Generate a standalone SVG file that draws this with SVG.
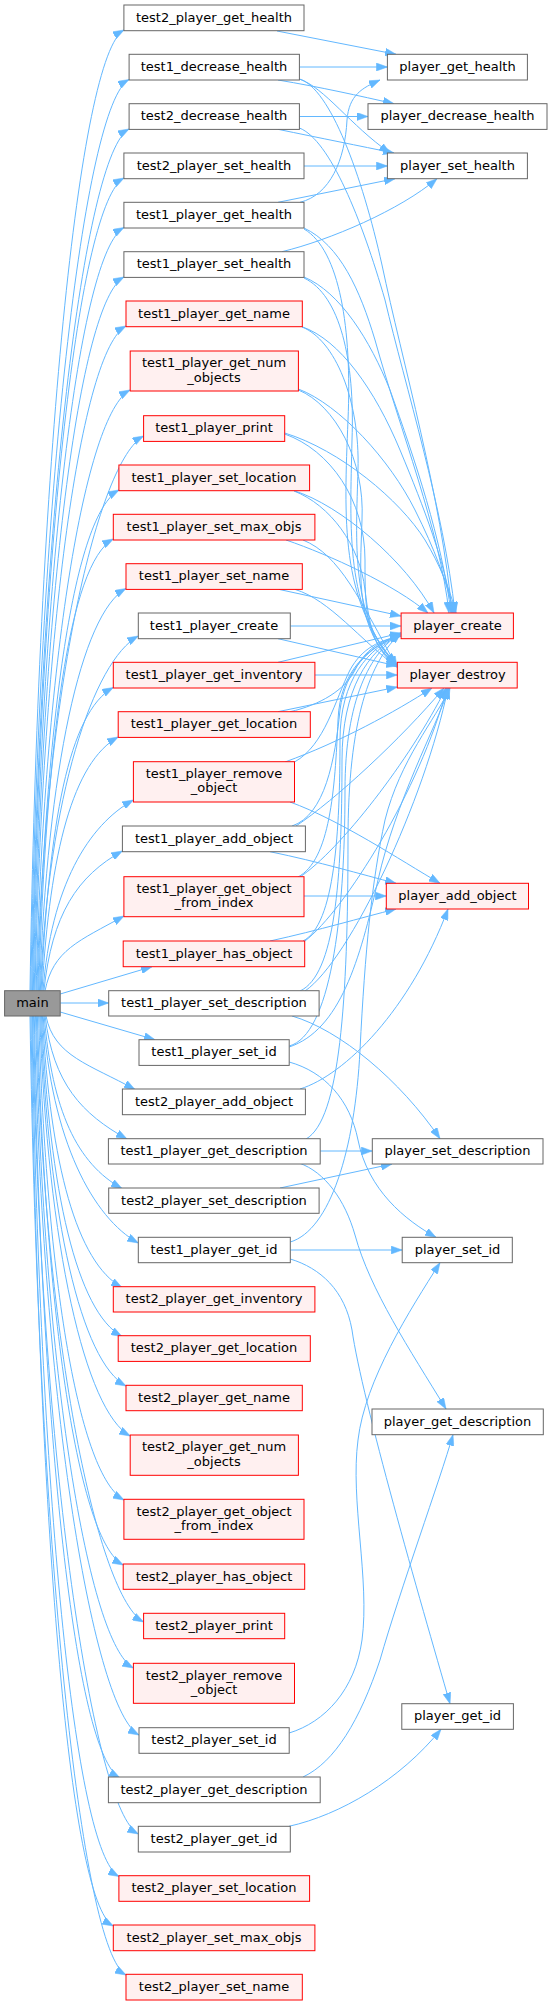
<svg xmlns="http://www.w3.org/2000/svg" width="549" height="2005" viewBox="0 0 549 2005">
<style>
.n rect{fill:#ffffff;stroke:#666666;stroke-width:1}
.r rect{fill:#fff0f0;stroke:#ff0000;stroke-width:1}
.m rect{fill:#999999;stroke:#666666;stroke-width:1}
text{font-family:"DejaVu Sans","Liberation Sans",sans-serif;font-size:13px;text-anchor:middle;fill:#000}
#edges path{fill:none;stroke:#63b8ff;stroke-width:1;marker-end:url(#ah)}
</style>
<defs>
<marker id="ah" markerUnits="userSpaceOnUse" viewBox="0 0 11 8" refX="11" refY="4" markerWidth="11" markerHeight="8" orient="auto">
<path d="M0,0 L11,4 L0,8 z" fill="#63b8ff" stroke="#63b8ff" stroke-width="0.5"/>
</marker>
</defs>
<rect width="549" height="2005" fill="#ffffff"/>
<g id="edges">
<path d="M30,991 C38,462.5 79,55 124,30"/>
<path d="M30.8,991 C38.8,489.7 84,104.5 129,79.5"/>
<path d="M31.7,991 C39.7,516.9 84,154 129,129"/>
<path d="M32.5,991 C40.5,543.8 79,203 124,178"/>
<path d="M33.3,991 C41.3,571.1 79,252.5 124,227.5"/>
<path d="M34.2,991 C42.2,598.3 79,302 124,277"/>
<path d="M35,991 C43,625.3 81,351 126,326"/>
<path d="M36.1,991 C44.1,660.5 85,415 130,390"/>
<path d="M36.9,991 C44.9,685.8 98.6,461 143.6,436"/>
<path d="M37.8,991 C45.8,715.5 74,515 119,490"/>
<path d="M38.6,991 C46.6,742.4 68.3,564 113.3,539"/>
<path d="M39.5,991 C47.5,769.6 81,613.5 126,588.5"/>
<path d="M40.3,991 C48.3,795.8 93.3,661 138.3,636"/>
<path d="M41.1,991 C49.1,824.1 68.3,712.5 113.3,687.5"/>
<path d="M42,991 C50,851.3 73.2,762 118.2,737"/>
<path d="M43,991 C51,886 88.4,825 133.4,800"/>
<path d="M43.9,991 C51.9,914 77.4,876 122.4,851"/>
<path d="M45,991 C53,949.8 79,941 124,916"/>
<path d="M60.2,994 L152,966.7"/>
<path d="M60.2,1003 L108.7,1003"/>
<path d="M60.2,1012 L155,1039.7"/>
<path d="M46,1016 C54,1056.4 90,1064.5 135,1089.5"/>
<path d="M45.1,1016 C53.1,1083.7 82,1114 127,1139"/>
<path d="M44.2,1016 C52.2,1110.9 77,1163.5 122,1188.5"/>
<path d="M43.2,1016 C51.2,1140.9 93.3,1218 138.3,1243"/>
<path d="M42.4,1016 C50.4,1165.3 77,1262.5 122,1287.5"/>
<path d="M41.5,1016 C49.5,1192.3 77,1311.5 122,1336.5"/>
<path d="M40.6,1016 C48.6,1219.5 81,1361 126,1386"/>
<path d="M39.7,1016 C47.7,1247 85.2,1411 130.2,1436"/>
<path d="M38.6,1016 C46.6,1282.2 79,1475 124,1500"/>
<path d="M37.4,1016 C45.4,1318 78.2,1540 123.2,1565"/>
<path d="M36.4,1016 C44.4,1349.3 98.6,1597 143.6,1622"/>
<path d="M35.5,1016 C43.5,1374.6 88.4,1643 133.4,1668"/>
<path d="M34.3,1016 C42.3,1411.5 94,1710 139,1735"/>
<path d="M33.5,1016 C41.5,1435.1 75,1753 120,1778"/>
<path d="M32.5,1016 C40.5,1465.9 93.3,1809 138.3,1834"/>
<path d="M31.8,1016 C39.8,1489.3 74,1851.5 119,1876.5"/>
<path d="M30.9,1016 C38.9,1516.5 68.3,1901 113.3,1926"/>
<path d="M30,1016 C38,1543.5 81,1950 126,1975"/>
<path d="M277,31 L396,54.3"/>
<path d="M299.4,67 L387.4,67"/>
<path d="M278,80 C320,87 360,96 394,103.7"/>
<path d="M299.4,79 C325,88 350,125 390,153"/>
<path d="M299.4,116.5 L368,116.5"/>
<path d="M278,129.3 C320,138 360,146 394,153"/>
<path d="M304,166 L387.4,166"/>
<path d="M300,202.3 C330,195 345,160 347,120 C349,95 362,88 380,80"/>
<path d="M278,202.3 L395,178.7"/>
<path d="M282,251.7 C330,240 400,210 437,178.7"/>
<path d="M299.4,79 C330,88 362,175 382,265 C402,360 442,500 452,613"/>
<path d="M299.4,128 C330,140 362,220 385,300 C405,385 444,510 455,613"/>
<path d="M304,228 C340,245 360,290 375,340 C400,430 440,530 449,613"/>
<path d="M304,277 C340,292 370,340 390,390 C415,460 442,540 451,613"/>
<path d="M302,326.7 C340,340 375,390 400,450 C425,510 444,560 453,613"/>
<path d="M298.4,389 C340,405 390,460 415,510 C435,550 446,580 454,613"/>
<path d="M284.7,433 C340,450 400,500 425,540 C440,565 450,590 456,613"/>
<path d="M294,490.7 C340,505 405,560 434,613"/>
<path d="M286,540 C330,555 395,585 428,613"/>
<path d="M304,229 C340,250 352,330 348,420 C344,520 340,600 396,664"/>
<path d="M304,278 C340,295 355,360 352,440 C350,530 345,610 396,665"/>
<path d="M302,327 C335,340 360,400 358,470 C356,540 350,620 397,665"/>
<path d="M298.4,390 C335,405 365,460 362,520 C360,580 355,630 397,666"/>
<path d="M284.7,434 C330,450 365,500 365,560 C365,610 365,640 397,666"/>
<path d="M294,491 C330,505 360,545 365,590 C370,630 375,650 397,667"/>
<path d="M303,540 C340,555 360,600 397,667"/>
<path d="M295,589.4 C330,600 360,640 397,667"/>
<path d="M279,589.4 L401,616"/>
<path d="M290.3,626 L401,626"/>
<path d="M278,638.7 L397.3,666"/>
<path d="M278,662.3 L401,633"/>
<path d="M314.9,675 L397.3,675"/>
<path d="M278,711.7 L397.3,687"/>
<path d="M290,711.7 C320,705 345,690 355,670 C365,650 380,640 401,636"/>
<path d="M294.5,762 C325,745 335,700 350,670 C362,648 380,640 401,636"/>
<path d="M292,826 C325,815 335,760 340,710 C345,670 370,645 401,635"/>
<path d="M298,877 C330,860 335,790 338,720 C340,670 370,645 401,635"/>
<path d="M303,941 C335,925 340,830 340,740 C340,680 368,648 401,634"/>
<path d="M300,991 C335,975 342,880 342,760 C342,690 368,650 401,634"/>
<path d="M289.2,1046 C330,1035 345,920 345,790 C345,700 370,652 401,633"/>
<path d="M306,1139 C340,1120 348,1000 348,840 C348,720 370,660 401,633"/>
<path d="M285,762 C340,742 395,712 432,688"/>
<path d="M296,826 C335,800 400,740 444,688"/>
<path d="M300,877 C340,850 410,760 446,688"/>
<path d="M305,941 C345,910 420,790 447,688"/>
<path d="M305,991 C350,960 425,800 448,688"/>
<path d="M289.2,1047 C340,1030 360,960 378,880 C396,800 435,730 449,688"/>
<path d="M290.3,1242 C330,1230 355,1150 360,1050 C365,950 372,880 385,820 C400,760 435,720 450,688"/>
<path d="M290,802 C340,820 400,860 440,883.3"/>
<path d="M270,851.7 C320,862 360,874 396,883.3"/>
<path d="M304,896 L386.3,896"/>
<path d="M270,941 C320,930 360,918 396,909"/>
<path d="M300,1089 C345,1075 410,1010 448,909"/>
<path d="M292,1016 C340,1030 400,1080 440,1138.7"/>
<path d="M320.2,1151 L372.3,1151"/>
<path d="M280,1188 L392,1164"/>
<path d="M289.2,1062 C325,1072 350,1100 358,1140 C368,1190 405,1220 436,1237.3"/>
<path d="M290.3,1250 L402.2,1250"/>
<path d="M299,1163 C325,1172 345,1200 355,1235 C370,1290 410,1350 446,1409"/>
<path d="M290.3,1259 C320,1268 345,1290 352,1330 C362,1400 420,1600 450,1703.7"/>
<path d="M289.2,1733 C325,1722 355,1690 362,1640 C370,1580 350,1500 358,1440 C365,1380 410,1310 440,1262.7"/>
<path d="M303,1777 C335,1762 360,1720 380,1660 C400,1590 440,1480 453,1434.7"/>
<path d="M289,1826.3 C340,1815 400,1780 441,1729.3"/>
</g>
<g id="main" class="m"><rect x="4.6" y="990.7" width="55.6" height="25.3"/><text x="32.4" y="1007.3">main</text></g>
<g id="test2_player_get_health" class="n"><rect x="123.9" y="5" width="180.1" height="25.7"/><text x="214" y="21.5">test2_player_get_health</text></g>
<g id="test1_decrease_health" class="n"><rect x="129.1" y="54.3" width="170.3" height="25.7"/><text x="214" y="70.8">test1_decrease_health</text></g>
<g id="test2_decrease_health" class="n"><rect x="129.1" y="103.7" width="170.3" height="25.7"/><text x="214" y="120.2">test2_decrease_health</text></g>
<g id="test2_player_set_health" class="n"><rect x="123.9" y="153" width="180.1" height="25.7"/><text x="214" y="169.5">test2_player_set_health</text></g>
<g id="test1_player_get_health" class="n"><rect x="123.9" y="202.3" width="180.1" height="25.7"/><text x="214" y="218.8">test1_player_get_health</text></g>
<g id="test1_player_set_health" class="n"><rect x="123.9" y="251.7" width="180.1" height="25.7"/><text x="214" y="268.2">test1_player_set_health</text></g>
<g id="test1_player_get_name" class="r"><rect x="126" y="301" width="176.3" height="25.7"/><text x="214" y="317.5">test1_player_get_name</text></g>
<g id="test1_player_get_num_objects" class="r"><rect x="130.2" y="351" width="168.2" height="40"/><text x="214" y="367.3">test1_player_get_num</text><text x="214" y="381.7">_objects</text></g>
<g id="test1_player_print" class="r"><rect x="143.6" y="415.7" width="141.1" height="25.7"/><text x="214" y="432.2">test1_player_print</text></g>
<g id="test1_player_set_location" class="r"><rect x="118.9" y="465" width="190.7" height="25.7"/><text x="214" y="481.5">test1_player_set_location</text></g>
<g id="test1_player_set_max_objs" class="r"><rect x="113.3" y="514.3" width="201.6" height="25.7"/><text x="214" y="530.8">test1_player_set_max_objs</text></g>
<g id="test1_player_set_name" class="r"><rect x="126" y="563.7" width="176.3" height="25.7"/><text x="214" y="580.2">test1_player_set_name</text></g>
<g id="test1_player_create" class="n"><rect x="138.3" y="613" width="152" height="25.7"/><text x="214" y="629.5">test1_player_create</text></g>
<g id="test1_player_get_inventory" class="r"><rect x="113.3" y="662.3" width="201.6" height="25.7"/><text x="214" y="678.8">test1_player_get_inventory</text></g>
<g id="test1_player_get_location" class="r"><rect x="118.2" y="711.7" width="192.1" height="25.7"/><text x="214" y="728.2">test1_player_get_location</text></g>
<g id="test1_player_remove_object" class="r"><rect x="133.4" y="761.7" width="161.1" height="40.3"/><text x="214" y="778">test1_player_remove</text><text x="214" y="792.4">_object</text></g>
<g id="test1_player_add_object" class="n"><rect x="122.4" y="826" width="183" height="25.7"/><text x="214" y="842.5">test1_player_add_object</text></g>
<g id="test1_player_get_object_from_index" class="r"><rect x="123.9" y="876.7" width="180.1" height="40"/><text x="214" y="893">test1_player_get_object</text><text x="214" y="907.4">_from_index</text></g>
<g id="test1_player_has_object" class="r"><rect x="123.2" y="941" width="181.5" height="25.7"/><text x="214" y="957.5">test1_player_has_object</text></g>
<g id="test1_player_set_description" class="n"><rect x="108.7" y="990.7" width="210.4" height="25.3"/><text x="214" y="1007.2">test1_player_set_description</text></g>
<g id="test1_player_set_id" class="n"><rect x="139" y="1039.7" width="150.2" height="25.7"/><text x="214" y="1056.2">test1_player_set_id</text></g>
<g id="test2_player_add_object" class="n"><rect x="122.4" y="1089" width="183" height="25.7"/><text x="214" y="1105.5">test2_player_add_object</text></g>
<g id="test1_player_get_description" class="n"><rect x="108.4" y="1138.7" width="211.8" height="25.3"/><text x="214" y="1155.2">test1_player_get_description</text></g>
<g id="test2_player_set_description" class="n"><rect x="108.7" y="1188" width="210.4" height="25.3"/><text x="214" y="1204.5">test2_player_set_description</text></g>
<g id="test1_player_get_id" class="n"><rect x="138.3" y="1237.3" width="152" height="25.4"/><text x="214" y="1253.8">test1_player_get_id</text></g>
<g id="test2_player_get_inventory" class="r"><rect x="113.3" y="1286.7" width="201.6" height="25.3"/><text x="214" y="1303.2">test2_player_get_inventory</text></g>
<g id="test2_player_get_location" class="r"><rect x="118.2" y="1335.7" width="192.1" height="25.7"/><text x="214" y="1352.2">test2_player_get_location</text></g>
<g id="test2_player_get_name" class="r"><rect x="126" y="1385.3" width="176.3" height="25.4"/><text x="214" y="1401.8">test2_player_get_name</text></g>
<g id="test2_player_get_num_objects" class="r"><rect x="130.2" y="1435" width="168.2" height="40.3"/><text x="214" y="1451.3">test2_player_get_num</text><text x="214" y="1465.7">_objects</text></g>
<g id="test2_player_get_object_from_index" class="r"><rect x="123.9" y="1499.3" width="180.1" height="40"/><text x="214" y="1515.6">test2_player_get_object</text><text x="214" y="1530">_from_index</text></g>
<g id="test2_player_has_object" class="r"><rect x="123.2" y="1564" width="181.5" height="25.3"/><text x="214" y="1580.5">test2_player_has_object</text></g>
<g id="test2_player_print" class="r"><rect x="143.6" y="1613.3" width="141.1" height="25.4"/><text x="214" y="1629.8">test2_player_print</text></g>
<g id="test2_player_remove_object" class="r"><rect x="133.4" y="1663.3" width="161.1" height="40"/><text x="214" y="1679.6">test2_player_remove</text><text x="214" y="1694">_object</text></g>
<g id="test2_player_set_id" class="n"><rect x="139" y="1727.7" width="150.2" height="25.6"/><text x="214" y="1744.2">test2_player_set_id</text></g>
<g id="test2_player_get_description" class="n"><rect x="108.4" y="1777" width="211.8" height="25.7"/><text x="214" y="1793.5">test2_player_get_description</text></g>
<g id="test2_player_get_id" class="n"><rect x="138.3" y="1826.3" width="152" height="25.7"/><text x="214" y="1842.8">test2_player_get_id</text></g>
<g id="test2_player_set_location" class="r"><rect x="118.9" y="1875.7" width="190.7" height="25.6"/><text x="214" y="1892.2">test2_player_set_location</text></g>
<g id="test2_player_set_max_objs" class="r"><rect x="113.3" y="1925" width="201.6" height="25.7"/><text x="214" y="1941.5">test2_player_set_max_objs</text></g>
<g id="test2_player_set_name" class="r"><rect x="126" y="1974.3" width="176.3" height="25.7"/><text x="214" y="1990.8">test2_player_set_name</text></g>
<g id="player_get_health" class="n"><rect x="387.4" y="54.3" width="140" height="25.7"/><text x="457.5" y="70.8">player_get_health</text></g>
<g id="player_decrease_health" class="n"><rect x="368" y="103.7" width="179" height="25.7"/><text x="457.5" y="120.2">player_decrease_health</text></g>
<g id="player_set_health" class="n"><rect x="387.4" y="153" width="140" height="25.7"/><text x="457.5" y="169.5">player_set_health</text></g>
<g id="player_create" class="r"><rect x="401.1" y="613" width="112.3" height="25.7"/><text x="457.5" y="629.5">player_create</text></g>
<g id="player_destroy" class="r"><rect x="397.3" y="662.3" width="119.9" height="25.7"/><text x="457.5" y="678.8">player_destroy</text></g>
<g id="player_add_object" class="r"><rect x="386.3" y="883.3" width="142.2" height="25.7"/><text x="457.5" y="899.8">player_add_object</text></g>
<g id="player_set_description" class="n"><rect x="372.3" y="1138.7" width="170.7" height="25.3"/><text x="457.5" y="1155.2">player_set_description</text></g>
<g id="player_set_id" class="n"><rect x="402.2" y="1237.3" width="110.1" height="25.4"/><text x="457.5" y="1253.8">player_set_id</text></g>
<g id="player_get_description" class="n"><rect x="372" y="1409" width="171.3" height="25.7"/><text x="457.5" y="1425.5">player_get_description</text></g>
<g id="player_get_id" class="n"><rect x="401.8" y="1703.7" width="111.6" height="25.6"/><text x="457.5" y="1720.2">player_get_id</text></g>
</svg>
